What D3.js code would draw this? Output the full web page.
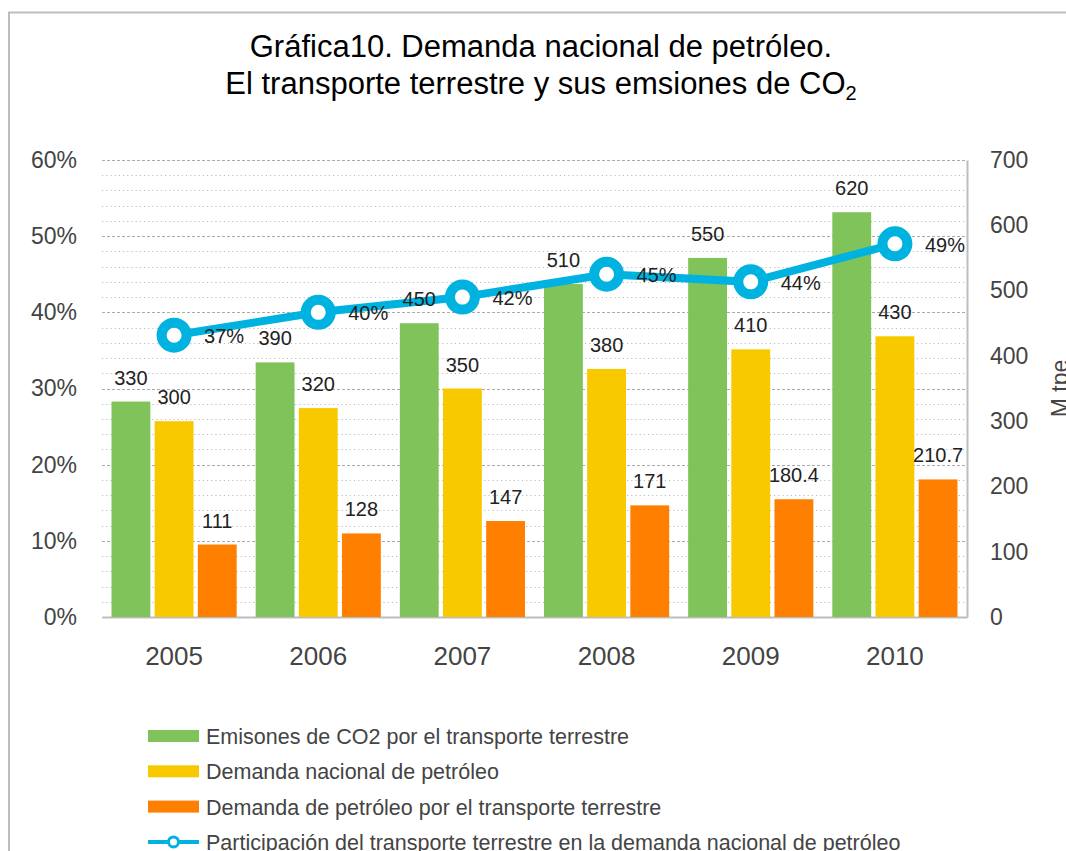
<!DOCTYPE html>
<html>
<head>
<meta charset="utf-8">
<script src="https://cdn.jsdelivr.net/npm/d3@7.9.0/dist/d3.min.js"></script>
<style>
  body { margin: 0; background: #fff; }
  svg { display: block; font-family: "Liberation Sans", Arial, Helvetica, sans-serif; }
</style>
</head>
<body>
<div id="chart"></div>
<script>
const years = ['2005', '2006', '2007', '2008', '2009', '2010'];
const emisiones = [330, 390, 450, 510, 550, 620];
const demandaNacional = [300, 320, 350, 380, 410, 430];
const demandaTransporte = [111, 128, 147, 171, 180.4, 210.7];
const participacion = [0.37, 0.40, 0.42, 0.45, 0.44, 0.49];
const leftTicks = [0, 0.1, 0.2, 0.3, 0.4, 0.5, 0.6];
const rightTicks = [0, 100, 200, 300, 400, 500, 600, 700];
const seriesNames = [
  'Emisones de CO2 por el transporte terrestre',
  'Demanda nacional de petróleo',
  'Demanda de petróleo por el transporte terrestre',
  'Participación del transporte terrestre en la demanda nacional de petróleo'
];
const colors = ['#7fc35a', '#f9c900', '#ff8000', '#00b2e0'];

const width = 1066;
const height = 851;
const margin = { top: 160, right: 99, bottom: 234, left: 102 };

const svg = d3.select('#chart')
  .append('svg')
  .attr('width', width)
  .attr('height', height);

// outer frame
svg.append('rect')
  .attr('x', 9)
  .attr('y', 12.5)
  .attr('width', 1200)
  .attr('height', 1000)
  .attr('fill', 'none')
  .attr('stroke', '#bdbdbd')
  .attr('stroke-width', 2);

// title
const title = svg.append('text')
  .attr('text-anchor', 'middle')
  .attr('fill', '#000')
  .attr('font-size', 31);
title.append('tspan').attr('x', 541).attr('y', 57).text('Gráfica10. Demanda nacional de petróleo.');
const t2 = title.append('tspan').attr('x', 541).attr('y', 94);
t2.append('tspan').text('El transporte terrestre y sus emsiones de CO');
t2.append('tspan').attr('font-size', 20).attr('dy', 6).text('2');

const x = d3.scaleBand()
  .domain(years)
  .range([margin.left, width - margin.right]);

const xInner = d3.scaleBand()
  .domain([0, 1, 2])
  .range([0, x.bandwidth()])
  .paddingInner(0.1)
  .paddingOuter(0.22);

const yLeft = d3.scaleLinear()
  .domain([0, 0.6])
  .range([height - margin.bottom, margin.top]);

const yRight = d3.scaleLinear()
  .domain([0, 700])
  .range([height - margin.bottom, margin.top]);

// grid lines
const minor = d3.range(0, 0.6001, 0.02);
svg.append('g')
  .selectAll('line')
  .data(minor)
  .join('line')
  .attr('x1', margin.left)
  .attr('x2', width - margin.right)
  .attr('y1', d => Math.round(yLeft(d)) + 0.5)
  .attr('y2', d => Math.round(yLeft(d)) + 0.5)
  .attr('stroke', (d, i) => i % 5 === 0 ? '#aaaaaa' : '#bbbbbb')
  .attr('stroke-dasharray', (d, i) => i % 5 === 0 ? '3,2' : '1.2,3');

// left axis
svg.append('g')
  .attr('transform', `translate(${margin.left},0)`)
  .call(d3.axisLeft(yLeft).tickValues(leftTicks).tickFormat(d3.format('.0%')).tickSize(0).tickPadding(25))
  .call(g => g.select('.domain').remove())
  .call(g => g.selectAll('text').attr('font-size', 23).attr('fill', '#444').attr('font-family', null));

// right axis
svg.append('g')
  .attr('transform', `translate(${width - margin.right},0)`)
  .call(d3.axisRight(yRight).tickValues(rightTicks).tickSize(0).tickPadding(23))
  .call(g => g.select('.domain').attr('stroke', '#bdbdbd').attr('stroke-width', 2))
  .call(g => g.selectAll('text').attr('font-size', 23).attr('fill', '#444').attr('font-family', null));

svg.append('text')
  .attr('transform', `translate(1068,${(margin.top + height - margin.bottom) / 2}) rotate(-90)`)
  .attr('text-anchor', 'middle')
  .attr('font-size', 23)
  .attr('fill', '#444')
  .text('M tpe');

// bottom axis
svg.append('g')
  .attr('transform', `translate(0,${height - margin.bottom})`)
  .call(d3.axisBottom(x).tickSize(0).tickPadding(30))
  .call(g => g.select('.domain').attr('stroke', '#bdbdbd').attr('stroke-width', 2))
  .call(g => g.selectAll('text').attr('font-size', 26).attr('fill', '#444').attr('font-family', null));

// bars
const barSeries = [emisiones, demandaNacional, demandaTransporte];
const barData = [];
years.forEach((yr, i) => {
  barSeries.forEach((s, k) => barData.push({ year: yr, k, value: s[i] }));
});

svg.append('g')
  .selectAll('rect')
  .data(barData)
  .join('rect')
  .attr('x', d => x(d.year) + xInner(d.k))
  .attr('y', d => yRight(d.value))
  .attr('width', xInner.bandwidth())
  .attr('height', d => yRight(0) - yRight(d.value))
  .attr('fill', d => colors[d.k]);

// line
const lineData = years.map((yr, i) => ({ year: yr, value: participacion[i] }));
const line = d3.line()
  .x(d => x(d.year) + x.bandwidth() / 2)
  .y(d => yLeft(d.value));

svg.append('path')
  .datum(lineData)
  .attr('fill', 'none')
  .attr('stroke', colors[3])
  .attr('stroke-width', 8)
  .attr('d', line);

svg.append('g')
  .selectAll('circle')
  .data(lineData)
  .join('circle')
  .attr('cx', d => x(d.year) + x.bandwidth() / 2)
  .attr('cy', d => yLeft(d.value))
  .attr('r', 12.5)
  .attr('fill', '#fff')
  .attr('stroke', colors[3])
  .attr('stroke-width', 10);

// bar labels
svg.append('g')
  .selectAll('text')
  .data(barData)
  .join('text')
  .attr('x', d => x(d.year) + xInner(d.k) + xInner.bandwidth() / 2)
  .attr('y', d => yRight(d.value) - 17)
  .attr('text-anchor', 'middle')
  .attr('font-size', 20)
  .attr('fill', '#222')
  .text(d => d.value);

// line labels
svg.append('g')
  .selectAll('text')
  .data(lineData)
  .join('text')
  .attr('x', d => x(d.year) + x.bandwidth() / 2 + 30)
  .attr('y', d => yLeft(d.value) + 8)
  .attr('font-size', 20)
  .attr('fill', '#222')
  .text(d => d3.format('.0%')(d.value));

// legend
const legend = svg.append('g').attr('transform', 'translate(148,736)');
const rowH = 35.3;
seriesNames.forEach((name, i) => {
  const g = legend.append('g').attr('transform', `translate(0,${i * rowH})`);
  if (i < 3) {
    g.append('rect')
      .attr('x', 0).attr('y', -6)
      .attr('width', 51).attr('height', 12)
      .attr('fill', colors[i]);
  } else {
    g.append('line')
      .attr('x1', 0).attr('x2', 51)
      .attr('y1', 0).attr('y2', 0)
      .attr('stroke', colors[3]).attr('stroke-width', 4);
    g.append('circle')
      .attr('cx', 25.5).attr('cy', 0).attr('r', 5)
      .attr('fill', '#fff').attr('stroke', colors[3]).attr('stroke-width', 3);
  }
  g.append('text')
    .attr('x', 58)
    .attr('y', 8)
    .attr('font-size', 21.5)
    .attr('fill', '#444')
    .text(name);
});
</script>
</body>
</html>
